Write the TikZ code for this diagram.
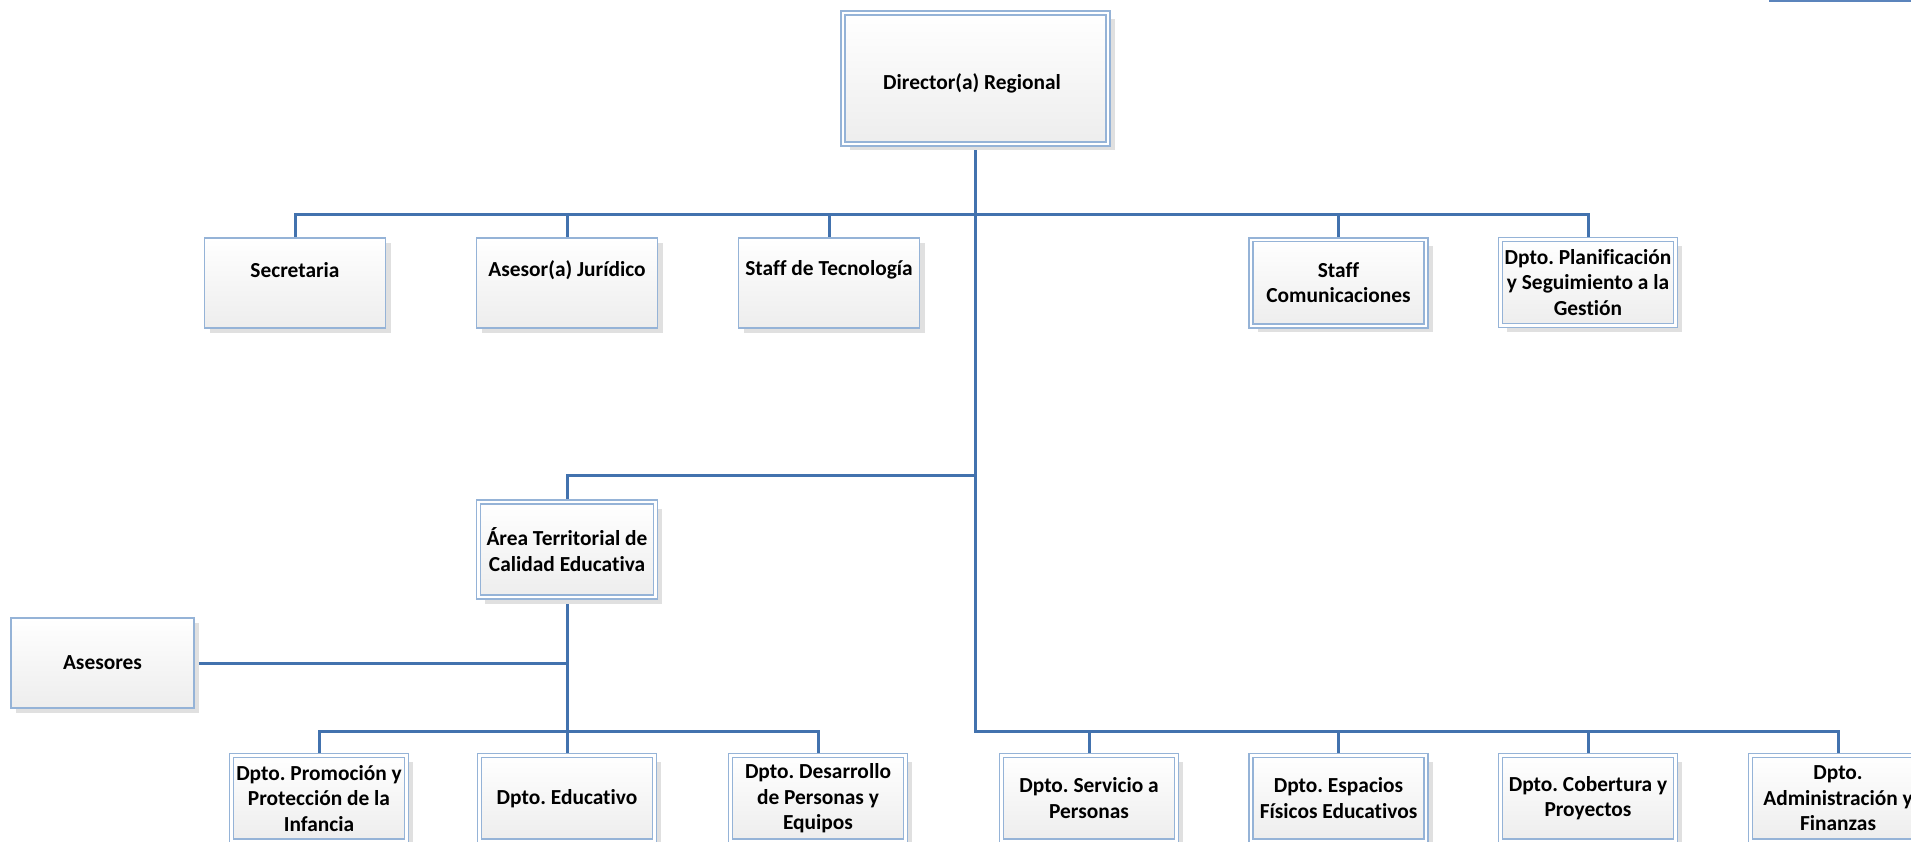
\documentclass[tikz,border=0pt]{standalone}
\usepackage{fontspec}
\setmainfont{Carlito}[Ligatures={NoCommon}]
\frenchspacing
\usetikzlibrary{shadows}
\definecolor{conncol}{HTML}{4272AE}
\definecolor{bordcol}{HTML}{95B3D7}
\definecolor{boxbot}{HTML}{EDEDED}
\definecolor{shadcol}{HTML}{E0E0E0}
\definecolor{toplinecol}{HTML}{5B84BC}
\begin{document}
\begin{tikzpicture}[x=1pt,y=-1pt,
  font=\fontsize{21.4}{25.5}\selectfont\bfseries\frenchspacing,
  base/.style={shape=rectangle, top color=white, bottom color=boxbot, align=center, inner sep=0pt},
  sbox/.style={base, draw=bordcol, line width=1.8pt, minimum width=181pt, minimum height=90.5pt,
    general shadow={fill=shadcol, shadow xshift=5pt, shadow yshift=-5pt}},
  dbox/.style={base, draw=bordcol, line width=1.7pt, double=white, double distance=2.2pt,
    minimum width=175pt, minimum height=86pt,
    general shadow={fill=shadcol, shadow xshift=6.5pt, shadow yshift=-6.5pt}},
  lbl/.style={align=center, inner sep=0pt},
  conn/.style={draw=conncol, line width=3pt}]
\useasboundingbox (0,0) rectangle (1911,842);
\clip (0,0) rectangle (1911,842);

% bus levels
\coordinate (topbus) at (0,215);
\coordinate (midbus) at (0,475);
\coordinate (botbus) at (0,731);

% top right line
\coordinate (tlA) at (1769,1);
\coordinate (tlB) at (1911,1);
\draw[draw=toplinecol, line width=2.4pt] (tlA) -- (tlB);

% connector end points
\coordinate (dirS) at (975,147);
\coordinate (secN) at (295,238);
\coordinate (jurN) at (567,238);
\coordinate (tecN) at (829,238);
\coordinate (comN) at (1338.5,237);
\coordinate (plaN) at (1588,237);
\coordinate (areN) at (567,500);
\coordinate (areS) at (567,600);
\coordinate (aseE) at (194,663);
\coordinate (proN) at (319,753);
\coordinate (eduN) at (567,753);
\coordinate (desN) at (818,753);
\coordinate (serN) at (1089,753);
\coordinate (espN) at (1338.5,753);
\coordinate (cobN) at (1588,753);
\coordinate (admN) at (1838,753);

\draw[conn] (secN) -- (secN |- topbus) -- (plaN |- topbus) -- (plaN);
\draw[conn] (jurN) -- (jurN |- topbus);
\draw[conn] (tecN) -- (tecN |- topbus);
\draw[conn] (comN) -- (comN |- topbus);
\draw[conn] (dirS) -- (dirS |- botbus) -- (admN |- botbus) -- (admN);
\draw[conn] (dirS |- midbus) -- (areN |- midbus) -- (areN);
\draw[conn] (areS) -- (eduN);
\draw[conn] (aseE) -- (areS |- aseE);
\draw[conn] (proN) -- (proN |- botbus) -- (desN |- botbus) -- (desN);
\draw[conn] (serN) -- (serN |- botbus);
\draw[conn] (espN) -- (espN |- botbus);
\draw[conn] (cobN) -- (cobN |- botbus);

% boxes
\node[dbox, minimum width=265pt, minimum height=131pt] (dir) at (975.5,78.5) {};
\node[lbl] (dirT) at (972,83) {Director(a) Regional};

\node[sbox] (sec) at (295,283) {};
\node[lbl] (secT) at (295,270) {Secretaria};
\node[sbox] (jur) at (567,283) {};
\node[lbl] (jurT) at (567,270) {Asesor(a) Jurídico};
\node[sbox] (tec) at (829,283) {};
\node[lbl] (tecT) at (829,270) {Staff de Tecnología};
\node[dbox] (com) at (1338.5,282.7) {Staff\\Comunicaciones};
\node[dbox] (pla) at (1588,282.5) {Dpto. Planificación\\y Seguimiento a la\\Gestión};

\node[dbox, minimum width=177pt, minimum height=95pt] (are) at (567,549.5) {Área Territorial de\\Calidad Educativa};
\node[sbox, minimum width=183pt] (ase) at (102.5,663) {Asesores};

\node[dbox, minimum height=85.5pt] (pro) at (319,798.3) {Dpto. Promoción y\\Protección de la\\Infancia};
\node[dbox, minimum height=85.5pt] (edu) at (567,798.3) {Dpto. Educativo};
\node[dbox, minimum height=85.5pt] (des) at (818,798.3) {Dpto. Desarrollo\\de Personas y\\Equipos};
\node[dbox, minimum height=85.5pt] (ser) at (1089,798.3) {Dpto. Servicio a\\Personas};
\node[dbox, minimum height=85.5pt] (esp) at (1338.5,798.3) {Dpto. Espacios\\Físicos Educativos};
\node[dbox, minimum height=85.5pt] (cob) at (1588,798.3) {Dpto. Cobertura y\\Proyectos};
\node[dbox, minimum height=85.5pt] (adm) at (1838,798.3) {Dpto.\\Administración y\\Finanzas};
\end{tikzpicture}
\end{document}
